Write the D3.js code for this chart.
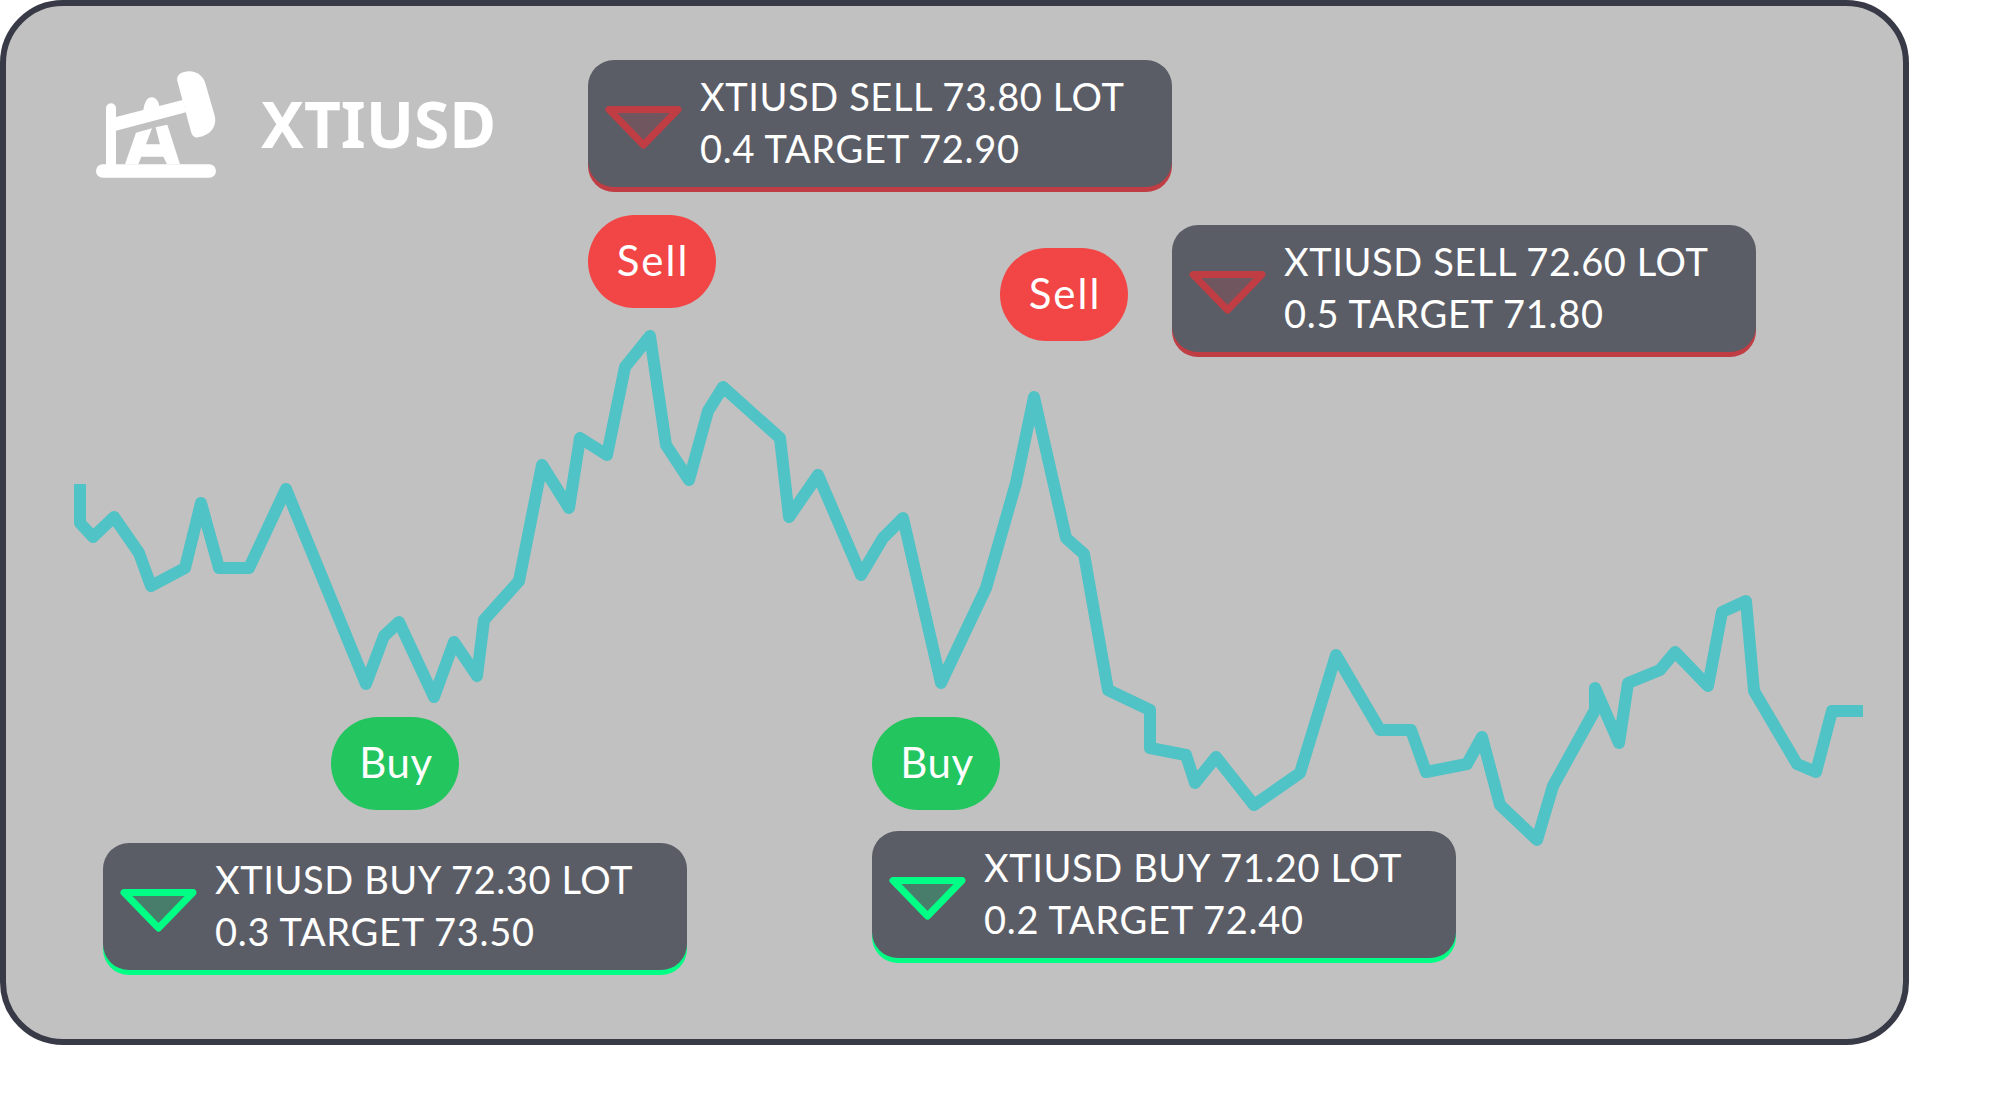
<!DOCTYPE html>
<html>
<head>
<meta charset="utf-8">
<title>XTIUSD</title>
<script src="https://cdn.jsdelivr.net/npm/d3@7"></script>
<style>
  html, body { margin: 0; background: #fff; }
  svg { display: block; }
  text { font-family: "Lato", "Noto Sans", sans-serif; fill: #fff; }
</style>
</head>
<body>
<div id="chart"></div>
<script>
// Valeurs (pas d'axe visible : position en pas, niveau au dessus du bas du cadre)
var lineStep = [0, 0, 13, 34, 59, 71, 105, 121, 139, 169, 206, 226, 286, 304, 319, 354, 374, 397, 404, 439, 462, 489, 500, 527, 545, 570, 586, 609, 628, 643, 700, 709, 738, 781, 803, 823, 861, 906, 936, 954, 986, 1004, 1028, 1070, 1070, 1106, 1115, 1136, 1174, 1220, 1256, 1300, 1331, 1346, 1387, 1402, 1420, 1457, 1473, 1515, 1515, 1539, 1548, 1580, 1595, 1628, 1642, 1666, 1674, 1717, 1736, 1752, 1783];
var lineLevel = [561, 522, 508, 528, 492, 459, 477, 542, 477, 477, 556, 507, 361, 409, 423, 348, 403, 369, 425, 464, 580, 537, 607, 590, 678, 709, 600, 565, 634, 658, 607, 528, 570, 470, 507, 527, 362, 457, 562, 648, 507, 491, 355, 335, 297, 290, 262, 288, 240, 272, 390, 315, 315, 273, 281, 308, 240, 205, 259, 335, 357, 302, 362, 375, 393, 359, 433, 444, 354, 281, 273, 334, 334];

var signalSide = ["SELL", "SELL", "BUY", "BUY"];
var signalPrice = ["73.80", "72.60", "72.30", "71.20"];
var signalLot = ["0.4", "0.5", "0.3", "0.2"];
var signalTarget = ["72.90", "71.80", "73.50", "72.40"];
var pillLabels = ["Sell", "Sell", "Buy", "Buy"];
var symbol = "XTIUSD";

var width = 2000, height = 1110;
var cardW = 1909, cardH = 1045;

var colors = {
  card: "#c1c1c1", border: "#383b47", line: "#4fc3c5", box: "#5b5d66",
  SELL: "#c13d44", BUY: "#00ff85", pillSell: "#f24545", pillBuy: "#22c55e"
};

var svg = d3.select("#chart").append("svg")
  .attr("width", width)
  .attr("height", height);

// Cadre
svg.append("rect")
  .attr("x", 3).attr("y", 3)
  .attr("width", cardW - 6).attr("height", cardH - 6)
  .attr("rx", 60)
  .attr("fill", colors.card)
  .attr("stroke", colors.border)
  .attr("stroke-width", 6);

// Icone pompe a petrole
var icon = svg.append("g").attr("transform", "translate(80,50) scale(0.3333)").attr("fill", "#fff");
icon.append("rect").attr("x", 48).attr("y", 343).attr("width", 360).attr("height", 40).attr("rx", 20);
icon.append("path").attr("d", "M78 350V175a15 15 0 0 1 30 0V350Z");
icon.append("path").attr("d", "M108 201L190 180C195 150 205 142 215 142C228 142 236 155 238 168L308 150L318 187L108 242Z");
icon.append("path").attr("d", "M292 92C288 75 305 64 328 64C352 64 370 80 376 100L405 200C410 230 392 255 355 262C342 264 336 255 333 245Z");
icon.append("path").attr("d", "M135 343L168 248L216 235L198 283H240L227 232L262 224L300 343H261L250 320H184L175 343Z");

svg.append("text")
  .attr("x", 261).attr("y", 148)
  .style("font-family", "'Noto Sans'")
  .style("font-weight", 700)
  .style("font-size", "64px")
  .text(symbol);

// Courbe
var x = d3.scaleLinear().domain([0, 1783]).range([80, 1863]);
var y = d3.scaleLinear().domain([0, 1045]).range([1045, 0]);

var line = d3.line()
  .x(function(d, i) { return x(lineStep[i]); })
  .y(function(d) { return y(d); });

svg.append("path")
  .datum(lineLevel)
  .attr("fill", "none")
  .attr("stroke", colors.line)
  .attr("stroke-width", 12)
  .attr("stroke-linejoin", "round")
  .attr("d", line);

// Etiquettes Sell / Buy
var pillX = [588, 1000, 331, 872];
var pillY = [215, 248, 717, 717];

pillLabels.forEach(function(label, i) {
  var g = svg.append("g").attr("transform", "translate(" + pillX[i] + "," + pillY[i] + ")");
  g.append("rect")
    .attr("width", 128).attr("height", 93).attr("rx", 46.5)
    .attr("fill", label === "Sell" ? colors.pillSell : colors.pillBuy);
  g.append("text")
    .attr("x", 65).attr("y", 61)
    .attr("text-anchor", "middle")
    .style("font-size", "42px")
    .style("letter-spacing", label === "Sell" ? "2px" : "0.5px")
    .text(label);
});

// Boites de signal
var boxX = [588, 1172, 103, 872];
var boxY = [60, 225, 843, 831];

signalSide.forEach(function(side, i) {
  var g = svg.append("g").attr("transform", "translate(" + boxX[i] + "," + boxY[i] + ")");
  g.append("rect")
    .attr("y", 5).attr("width", 584).attr("height", 127).attr("rx", 26)
    .attr("fill", colors[side]);
  g.append("rect")
    .attr("width", 584).attr("height", 127).attr("rx", 26)
    .attr("fill", colors.box);
  g.append("path")
    .attr("d", "M21 49.5H90L55.5 85Z")
    .attr("fill", colors[side])
    .attr("fill-opacity", 0.2)
    .attr("stroke", colors[side])
    .attr("stroke-width", 7)
    .attr("stroke-linejoin", "round");
  g.append("text")
    .attr("x", 112).attr("y", 51)
    .style("font-size", "38px")
    .style("letter-spacing", "0.6px")
    .text(symbol + " " + side + " " + signalPrice[i] + " LOT");
  g.append("text")
    .attr("x", 112).attr("y", 103)
    .style("font-size", "38px")
    .style("letter-spacing", "0.7px")
    .text(signalLot[i] + " TARGET " + signalTarget[i]);
});
</script>
</body>
</html>
